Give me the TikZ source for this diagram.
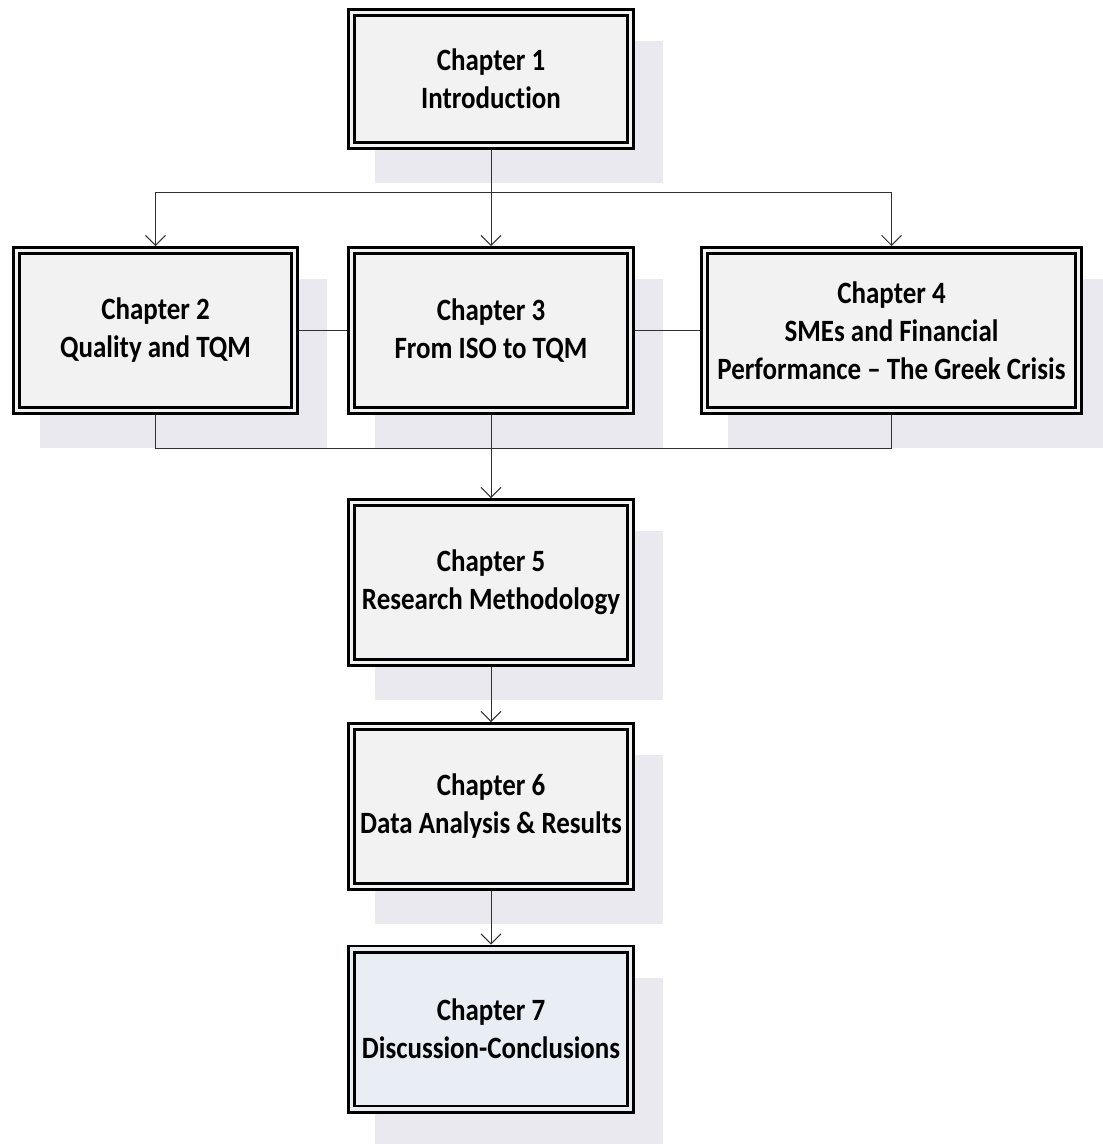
\documentclass[tikz,border=0pt]{standalone}
\usepackage{fontspec}
\setmainfont[FakeStretch=0.87, Ligatures=CommonOff]{Carlito}
\usetikzlibrary{arrows.meta,backgrounds,calc}
\definecolor{boxfill}{HTML}{F2F2F2}
\definecolor{lastfill}{HTML}{E9EDF4}
\definecolor{shadowcol}{HTML}{EBE9F0}
\definecolor{linecol}{HTML}{303030}
\tikzset{
  chapbox/.style={rectangle, draw=black, line width=2.6pt,
    double=boxfill, double distance=3.8pt, fill=boxfill,
    minimum width=279pt, minimum height=160pt, inner sep=0pt, outer sep=4.5pt,
    align=center, font=\fontsize{31}{38}\selectfont\bfseries},
  boxshadow/.style={fill=shadowcol},
  link/.style={draw=linecol, line width=1pt},
  arr/.style={link, -{Straight Barb[length=10pt,width=20pt,line width=1pt]}}
}
\begin{document}
\begin{tikzpicture}[x=1pt,y=-1pt]
\useasboundingbox (0,0) rectangle (1103,1144);
\clip (0,0) rectangle (1103,1144);

% chapter boxes
\node[chapbox, minimum height=133pt] (c1) at (491,79) {Chapter 1\\Introduction};
\node[chapbox, minimum width=278pt] (c2) at (155.5,330.5) {Chapter 2\\Quality and TQM};
\node[chapbox] (c3) at (491,330.5) {Chapter 3\\From ISO to TQM};
\node[chapbox, minimum width=374pt] (c4) at (891.5,330.5) {Chapter 4\\SMEs and Financial\\Performance -- The Greek Crisis};
\node[chapbox] (c5) at (491,582.5) {Chapter 5\\Research Methodology};
\node[chapbox] (c6) at (491,806.5) {Chapter 6\\Data Analysis \& Results};
\node[chapbox, double=lastfill, fill=lastfill] (c7) at (491,1029) {Chapter 7\\Discussion-Conclusions};

% offset shadows behind every box
\begin{scope}[on background layer]
  \foreach \b in {c1,c2,c3,c4,c5,c6,c7}
    \fill[boxshadow] ($(\b.north west)+(28,33)$) rectangle ($(\b.south east)+(28,33)$);
\end{scope}

% branch from chapter 1 to chapters 2-4
\coordinate (split) at (491,192);
\draw[link] (c1.south) -- (split);
\draw[arr] (split) -| (c2.north);
\draw[arr] (split) -- (c3.north);
\draw[arr] (split) -| (c4.north);

% links between chapters 2, 3 and 4
\draw[link] (c2.east) -- (c3.west);
\draw[link] (c3.east) -- (c4.west);

% merge into chapter 5
\coordinate (mergeL) at (155.5,448);
\coordinate (mergeR) at (891.5,448);
\draw[link] (c2.south) -- (mergeL) -- (mergeR) -- (c4.south);
\draw[arr] (c3.south) -- (c5.north);

% sequence 5 -> 6 -> 7
\draw[arr] (c5.south) -- (c6.north);
\draw[arr] (c6.south) -- (c7.north);
\end{tikzpicture}
\end{document}
